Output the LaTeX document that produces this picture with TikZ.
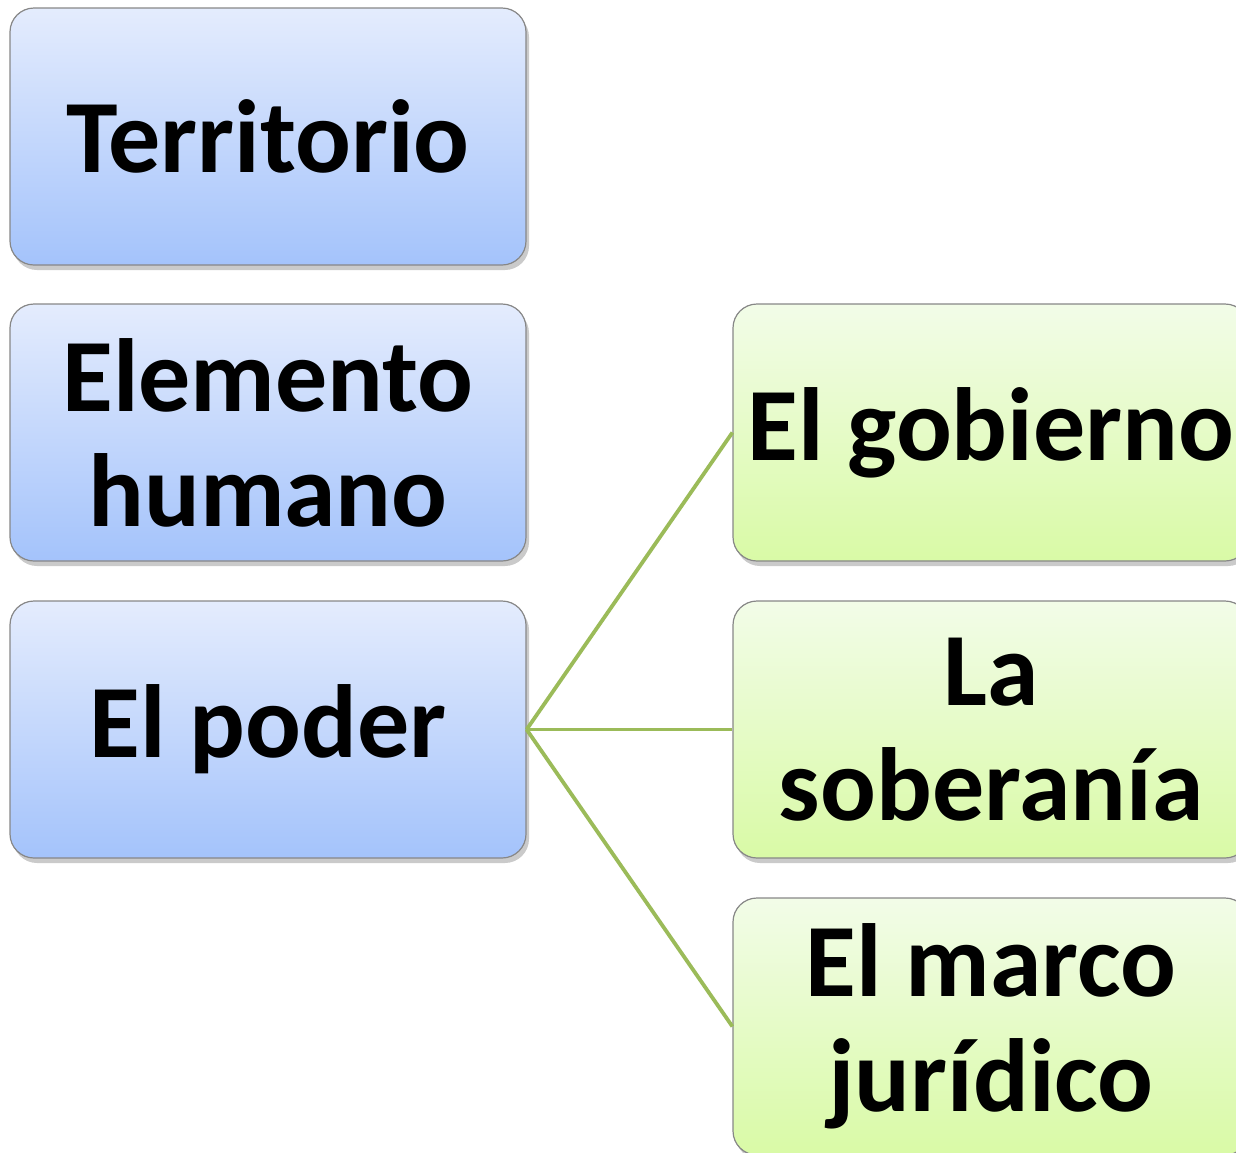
\documentclass[tikz,border=0pt]{standalone}
\usepackage{fontspec}
\setmainfont{Carlito}
\usetikzlibrary{shadows}
\definecolor{bluetop}{RGB}{228,236,253}
\definecolor{bluebot}{RGB}{164,195,251}
\definecolor{greentop}{RGB}{242,252,232}
\definecolor{greenbot}{RGB}{217,250,166}
\definecolor{boxline}{RGB}{135,135,135}
\definecolor{conn}{RGB}{155,187,89}
\tikzset{
  basebox/.style={rounded corners=24pt, minimum width=516pt, minimum height=257pt,
    inner sep=0pt, draw=boxline, line width=1.2pt, align=center,
    font=\fontsize{104}{115}\selectfont\bfseries,
    drop shadow={shadow xshift=3pt, shadow yshift=-5pt, opacity=0.35, fill=black!60}},
  bluebox/.style={basebox, top color=bluetop, bottom color=bluebot},
  greenbox/.style={basebox, top color=greentop, bottom color=greenbot},
  link/.style={draw=conn, line width=3.8pt}
}
\begin{document}
\begin{tikzpicture}[x=1pt,y=-1pt]
\useasboundingbox (0,0) rectangle (1236,1152);
\clip (0,0) rectangle (1236,1152);
\node[bluebox] (terr) at (268,136.5) {Territorio};
\node[bluebox] (hum) at (268,432.5) {Elemento\\humano};
\node[bluebox] (pod) at (268,729.5) {El poder};
\node[greenbox] (gob) at (991,432.5) {El gobierno};
\node[greenbox] (sob) at (991,729.5) {La\\soberanía};
\node[greenbox] (jur) at (991,1026.5) {El marco\\jurídico};
\draw[link] (pod.east) -- (gob.west);
\draw[link] (pod.east) -- (sob.west);
\draw[link] (pod.east) -- (jur.west);
\end{tikzpicture}
\end{document}
